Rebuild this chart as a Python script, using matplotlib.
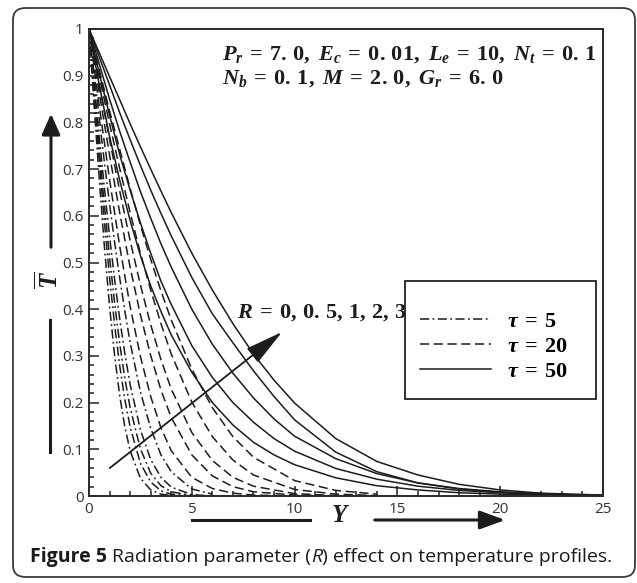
import matplotlib
matplotlib.use("Agg")
import matplotlib.pyplot as plt
from matplotlib.lines import Line2D
from matplotlib.patches import FancyBboxPatch, FancyArrowPatch, Rectangle
from matplotlib.ticker import MultipleLocator

# ---- values ----
# tau = 5, R = 0, 0.5, 1, 2, 3
y_tau5 = [0, 0.25, 0.5, 0.75, 1.0, 1.25, 1.5, 1.75, 2.0, 2.5, 3.0, 3.5, 4.0, 5.0, 6.0]
T_tau5 = [
    [1, 0.835, 0.678, 0.533, 0.406, 0.299, 0.213, 0.146, 0.097, 0.038, 0.013, 0.004, 0.001, 0, 0],
    [1, 0.856, 0.717, 0.586, 0.468, 0.365, 0.277, 0.205, 0.148, 0.070, 0.030, 0.011, 0.004, 0, 0],
    [1, 0.870, 0.742, 0.622, 0.511, 0.412, 0.324, 0.250, 0.189, 0.101, 0.049, 0.022, 0.009, 0.001, 0],
    [1, 0.883, 0.769, 0.659, 0.556, 0.462, 0.377, 0.303, 0.239, 0.142, 0.078, 0.040, 0.019, 0.003, 0],
    [1, 0.903, 0.808, 0.714, 0.626, 0.542, 0.465, 0.394, 0.329, 0.223, 0.145, 0.088, 0.052, 0.015, 0.004],
]

# tau = 20
y_tau20 = [0, 0.5, 1, 1.5, 2, 2.5, 3, 3.5, 4, 5, 6, 7, 8, 10, 12, 14]
T_tau20 = [
    [1, 0.835, 0.678, 0.533, 0.406, 0.299, 0.213, 0.146, 0.097, 0.040, 0.016, 0.006, 0.002, 0, 0, 0],
    [1, 0.863, 0.730, 0.605, 0.490, 0.388, 0.301, 0.227, 0.168, 0.088, 0.043, 0.020, 0.009, 0.002, 0, 0],
    [1, 0.881, 0.763, 0.652, 0.547, 0.452, 0.367, 0.292, 0.229, 0.136, 0.076, 0.040, 0.021, 0.005, 0.001, 0],
    [1, 0.898, 0.797, 0.700, 0.607, 0.520, 0.441, 0.369, 0.304, 0.201, 0.127, 0.077, 0.045, 0.014, 0.004, 0.001],
    [1, 0.912, 0.825, 0.741, 0.659, 0.580, 0.507, 0.439, 0.377, 0.272, 0.189, 0.127, 0.083, 0.033, 0.012, 0.004],
]

# tau = 50
y_tau50 = [0, 0.5, 1, 1.5, 2, 2.5, 3, 3.5, 4, 5, 6, 7, 8, 9, 10, 12, 14, 16, 18, 20, 22, 25]
T_tau50 = [
    [1, 0.880, 0.770, 0.675, 0.590, 0.515, 0.450, 0.395, 0.345, 0.265, 0.200, 0.152, 0.115,
     0.088, 0.067, 0.039, 0.022, 0.013, 0.007, 0.004, 0.002, 0],
    [1, 0.905, 0.815, 0.730, 0.655, 0.585, 0.520, 0.460, 0.410, 0.322, 0.254, 0.200, 0.158,
     0.123, 0.096, 0.059, 0.036, 0.021, 0.012, 0.007, 0.004, 0.001],
    [1, 0.925, 0.850, 0.780, 0.715, 0.652, 0.595, 0.540, 0.490, 0.400, 0.325, 0.263, 0.210,
     0.165, 0.128, 0.080, 0.048, 0.028, 0.016, 0.009, 0.005, 0.001],
    [1, 0.940, 0.880, 0.820, 0.763, 0.708, 0.655, 0.605, 0.557, 0.468, 0.390, 0.328, 0.268,
     0.213, 0.163, 0.094, 0.052, 0.028, 0.015, 0.008, 0.004, 0.001],
    [1, 0.949, 0.898, 0.848, 0.797, 0.748, 0.700, 0.653, 0.607, 0.520, 0.441, 0.369, 0.304,
     0.248, 0.199, 0.123, 0.074, 0.045, 0.025, 0.013, 0.006, 0.002],
]

tau_labels = [r"$\tau\:=\:5$", r"$\tau\:=\:20$", r"$\tau\:=\:50$"]
x_ticks = [0, 5, 10, 15, 20, 25]
y_ticks = [0, 0.1, 0.2, 0.3, 0.4, 0.5, 0.6, 0.7, 0.8, 0.9, 1]
y_ticklabels = ["0", "0.1", "0.2", "0.3", "0.4", "0.5", "0.6", "0.7", "0.8", "0.9", "1"]

# ---- fonts ----
plt.rcParams["font.family"] = ["Open Sans", "DejaVu Sans"]
plt.rcParams["mathtext.fontset"] = "custom"
plt.rcParams["mathtext.rm"] = "Liberation Serif:bold"
plt.rcParams["mathtext.it"] = "Liberation Serif:bold:italic"
plt.rcParams["mathtext.bf"] = "Liberation Serif:bold"

W, H = 637, 583


def fx(x):
    return x / W


def fy(y):
    return 1 - y / H


fig = plt.figure(figsize=(W / 100, H / 100), dpi=100)
ax = fig.add_axes([89 / W, 1 - 496 / H, (603 - 89) / W, (496 - 29) / H])

ink = "#1c1c1c"
dashdot = (6, 2.2, 1.2, 2.2)
dashed = (6, 3)

for T in T_tau5:
    ax.plot(y_tau5, T, color=ink, lw=1.1, dashes=dashdot)
for T in T_tau20:
    ax.plot(y_tau20, T, color=ink, lw=1.1, dashes=dashed)
for T in T_tau50:
    ax.plot(y_tau50, T, color=ink, lw=1.1)

ax.set_xlim(0, 25)
ax.set_ylim(0, 1)
ax.set_xticks(x_ticks)
ax.set_yticks(y_ticks)
ax.set_yticklabels(y_ticklabels)
ax.xaxis.set_minor_locator(MultipleLocator(1))
ax.yaxis.set_minor_locator(MultipleLocator(0.02))
ax.tick_params(which="both", direction="in", colors="#333333", labelsize=11, width=1.2)
ax.tick_params(which="major", length=7, pad=4)
ax.tick_params(which="minor", length=3.5)
for s in ax.spines.values():
    s.set_linewidth(1.4)
    s.set_color("#2a2a2a")

# parameter text
eq = r"\:=\:"
ax.text(0.259, 0.934,
        r"$P_r" + eq + r"7.\,0,\ E_c" + eq + r"0.\,01,\ L_e" + eq + r"10,\ N_t" + eq + r"0.\,1$",
        transform=ax.transAxes, fontsize=16, va="baseline", color=ink)
ax.text(0.259, 0.884,
        r"$N_b" + eq + r"0.\,1,\ M" + eq + r"2.\,0,\ G_r" + eq + r"6.\,0$",
        transform=ax.transAxes, fontsize=16, va="baseline", color=ink)

# R arrow
ax.annotate("", xy=(9.5, 0.355), xytext=(0.9, 0.056),
            arrowprops=dict(arrowstyle="-|>,head_length=1.7,head_width=0.4",
                            mutation_scale=14, lw=1.3, color=ink))
ax.text(7.2, 0.381, r"$R" + eq + r"0,\,0.\,5,\,1,\,2,\,3$", fontsize=16,
        va="baseline", color=ink)

# legend
handles = [Line2D([], [], color=ink, lw=1.1, dashes=dashdot),
           Line2D([], [], color=ink, lw=1.1, dashes=dashed),
           Line2D([], [], color=ink, lw=1.1)]
ax.legend(handles, tau_labels, loc="upper left", bbox_to_anchor=(0.644, 0.397),
          frameon=False, fontsize=16, handlelength=3.2, handletextpad=0.7,
          labelspacing=0.18, borderpad=0, borderaxespad=0)
ax.add_patch(Rectangle((0.615, 0.208), 0.371, 0.252, transform=ax.transAxes,
                       fill=False, ec="#222222", lw=1.3, zorder=5))

# axis labels with arrows
fig.text(fx(50), fy(280), r"$\overline{T}$", fontsize=18, rotation=90,
         ha="center", va="center", color=ink)
fig.add_artist(FancyArrowPatch((fx(51), fy(250)), (fx(51), fy(111)),
                               transform=fig.transFigure,
                               arrowstyle="-|>,head_length=0.9,head_width=0.4",
                               mutation_scale=14, lw=2.2, color=ink))
fig.add_artist(Line2D([fx(50), fx(50)], [fy(320), fy(452)],
                      transform=fig.transFigure, lw=2.2, color=ink))

fig.text(fx(341), fy(515), r"$Y$", fontsize=18, ha="center", va="center", color=ink)
fig.add_artist(Line2D([fx(192), fx(310)], [fy(520), fy(520)],
                      transform=fig.transFigure, lw=2.2, color=ink))
fig.add_artist(FancyArrowPatch((fx(372), fy(520)), (fx(508), fy(520)),
                               transform=fig.transFigure,
                               arrowstyle="-|>,head_length=1.1,head_width=0.4",
                               mutation_scale=14, lw=2.2, color=ink))

# caption
r = fig.canvas.get_renderer()
x0 = fx(30)
base = fy(562)
pieces = [("Figure 5 ", "bold", "normal"),
          ("Radiation parameter (", "normal", "normal"),
          ("R", "normal", "italic"),
          (") effect on temperature profiles.", "normal", "normal")]
for txt, wt, st in pieces:
    t = fig.text(x0, base, txt, fontsize=14, fontweight=wt, fontstyle=st,
                 va="baseline", ha="left", color="#1a1a1a")
    bb = t.get_window_extent(renderer=r)
    x0 += bb.width / W

# rounded frame
fig.add_artist(FancyBboxPatch((fx(13), fy(577)), (635 - 13) / W, (577 - 8) / H,
                              boxstyle="round,pad=0,rounding_size=0.02",
                              transform=fig.transFigure, fill=False,
                              ec="#3a3a3a", lw=1.3))

fig.savefig("out.png", dpi=100)
